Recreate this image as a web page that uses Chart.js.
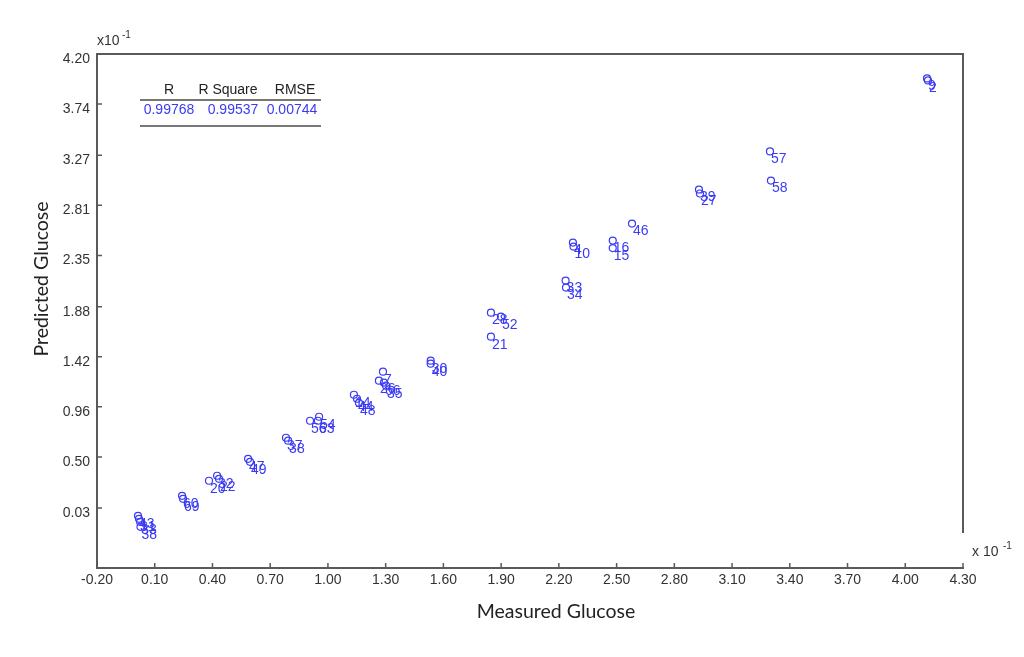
<!DOCTYPE html>
<html>
<head>
<meta charset="utf-8">
<script src="https://cdn.jsdelivr.net/npm/chart.js@4.4.0/dist/chart.umd.min.js"></script>
<style>
  html, body { margin: 0; padding: 0; background: #fff; }
  #wrap { width: 1024px; height: 657px; }
</style>
</head>
<body>
<div id="wrap"><canvas id="glucoseChart" width="1024" height="657"></canvas></div>
<script>
// Sample ids and values (x10^-1)
const sampleIds = ['9', '2', '57', '58', '39', '27', '46', '16', '15', '4', '10', '33', '34',
  '28', '52', '21', '30', '40', '7', '26', '66', '35', '14', '44', '48', '56', '54', '63',
  '37', '38', '47', '49', '20', '32', '22', '60', '69', '43', '31', '33b', '38b'];
const measured = [4.113, 4.118, 3.297, 3.302, 2.928, 2.933, 2.580, 2.480, 2.480, 2.273, 2.276, 2.235, 2.237,
  1.847, 1.899, 1.847, 1.534, 1.534, 1.286, 1.265, 1.291, 1.302, 1.135, 1.151, 1.161, 0.907, 0.954, 0.948,
  0.782, 0.793, 0.585, 0.595, 0.382, 0.424, 0.434, 0.242, 0.247, 0.013, 0.018, 0.024, 0.026];
const predicted = [3.976, 3.957, 3.305, 3.038, 2.955, 2.919, 2.643, 2.487, 2.418, 2.468, 2.432, 2.119, 2.055,
  1.825, 1.788, 1.604, 1.384, 1.356, 1.283, 1.200, 1.182, 1.154, 1.071, 1.034, 0.997, 0.832, 0.869, 0.832,
  0.676, 0.649, 0.483, 0.455, 0.281, 0.327, 0.299, 0.143, 0.115, -0.041, -0.068, -0.096, -0.142];

const xTicks = [-0.20, 0.10, 0.40, 0.70, 1.00, 1.30, 1.60, 1.90, 2.20, 2.50, 2.80, 3.10, 3.40, 3.70, 4.00, 4.30];
const yTicks = [0.03, 0.50, 0.96, 1.42, 1.88, 2.35, 2.81, 3.27, 3.74, 4.20];

const statNames = ['R', 'R Square', 'RMSE'];
const statValues = ['0.99768', '0.99537', '0.00744'];

const blue = '#3a3af5';
const axisColor = '#5a5a5a';
const tickFont = { family: '"Liberation Sans", Arial, sans-serif', size: 14 };

const points = measured.map((m, i) => ({ x: m, y: predicted[i] }));

// draws the frame, inner tick marks, labels, table and exponents
const extras = {
  id: 'extras',
  afterDraw(chart) {
    const c = chart.ctx;
    const a = chart.chartArea;
    const xs = chart.scales.x, ys = chart.scales.y;
    c.save();
    c.strokeStyle = axisColor;
    c.lineWidth = 2;
    c.beginPath();
    c.moveTo(a.left, a.top);
    c.lineTo(a.right, a.top);
    c.lineTo(a.right, 533);
    c.stroke();

    c.lineWidth = 1.5;
    c.beginPath();
    xTicks.forEach(v => {
      const px = xs.getPixelForValue(v);
      c.moveTo(px, a.bottom);
      c.lineTo(px, a.bottom - 5);
    });
    yTicks.forEach(v => {
      const py = ys.getPixelForValue(v);
      c.moveTo(a.left, py);
      c.lineTo(a.left + 5, py);
    });
    c.stroke();

    // point labels
    const meta = chart.getDatasetMeta(0);
    c.fillStyle = blue;
    c.font = '14px "Liberation Sans", Arial, sans-serif';
    c.textAlign = 'left';
    c.textBaseline = 'middle';
    meta.data.forEach((el, i) => {
      c.fillText(sampleIds[i].replace('b', ''), el.x + 1, el.y + 8);
    });

    // exponents
    c.fillStyle = '#333';
    c.font = '14px "Liberation Sans", Arial, sans-serif';
    c.textBaseline = 'alphabetic';
    c.fillText('x10', 97, 45);
    c.font = '10px "Liberation Sans", Arial, sans-serif';
    c.fillText('-1', 122, 38);
    c.font = '14px "Liberation Sans", Arial, sans-serif';
    c.fillText('x 10', 972, 556);
    c.font = '10px "Liberation Sans", Arial, sans-serif';
    c.fillText('-1', 1003, 549);

    // axis titles
    c.fillStyle = '#222';
    c.font = '19.5px Lato, "Open Sans", sans-serif';
    c.textAlign = 'center';
    c.textBaseline = 'middle';
    c.fillText('Measured Glucose', 556, 612);
    c.translate(42, 279);
    c.rotate(-Math.PI / 2);
    c.fillText('Predicted Glucose', 0, 0);
    c.setTransform(1, 0, 0, 1, 0, 0);

    // stats table
    c.strokeStyle = '#777';
    c.lineWidth = 2;
    c.beginPath();
    c.moveTo(140, 100); c.lineTo(321, 100);
    c.moveTo(140, 126); c.lineTo(321, 126);
    c.stroke();
    c.font = '14px "Liberation Sans", Arial, sans-serif';
    const colX = [169, 228, 295];
    c.fillStyle = '#222';
    statNames.forEach((s, i) => c.fillText(s, colX[i], 90));
    c.fillStyle = blue;
    const valX = [169, 233, 292];
    statValues.forEach((s, i) => c.fillText(s, valX[i], 110));
    c.restore();
  }
};

new Chart(document.getElementById('glucoseChart'), {
  type: 'scatter',
  data: {
    datasets: [{
      data: points,
      pointStyle: 'circle',
      pointRadius: 3.5,
      pointBorderWidth: 1.2,
      borderColor: blue,
      backgroundColor: 'rgba(0,0,0,0)'
    }]
  },
  plugins: [extras],
  options: {
    responsive: false,
    animation: false,
    layout: { padding: { top: 54, right: 61, left: 0, bottom: 0 } },
    plugins: { legend: { display: false }, tooltip: { enabled: false } },
    scales: {
      x: {
        type: 'linear',
        min: -0.2,
        max: 4.3,
        afterFit: s => { s.height = 89; },
        afterBuildTicks: s => { s.ticks = xTicks.map(v => ({ value: v })); },
        grid: { display: false, drawTicks: false },
        border: { display: true, color: axisColor, width: 2 },
        ticks: {
          color: '#333',
          font: tickFont,
          padding: 4,
          maxRotation: 0,
          autoSkip: false,
          callback: v => v.toFixed(2)
        }
      },
      y: {
        type: 'linear',
        min: -0.52,
        max: 4.2,
        afterFit: s => { s.width = 97; },
        afterBuildTicks: s => { s.ticks = yTicks.map(v => ({ value: v })); },
        grid: { display: false, drawTicks: false },
        border: { display: true, color: axisColor, width: 2 },
        ticks: {
          color: '#333',
          font: tickFont,
          padding: 7,
          labelOffset: 5,
          autoSkip: false,
          callback: v => v.toFixed(2)
        }
      }
    }
  }
});
</script>
</body>
</html>
